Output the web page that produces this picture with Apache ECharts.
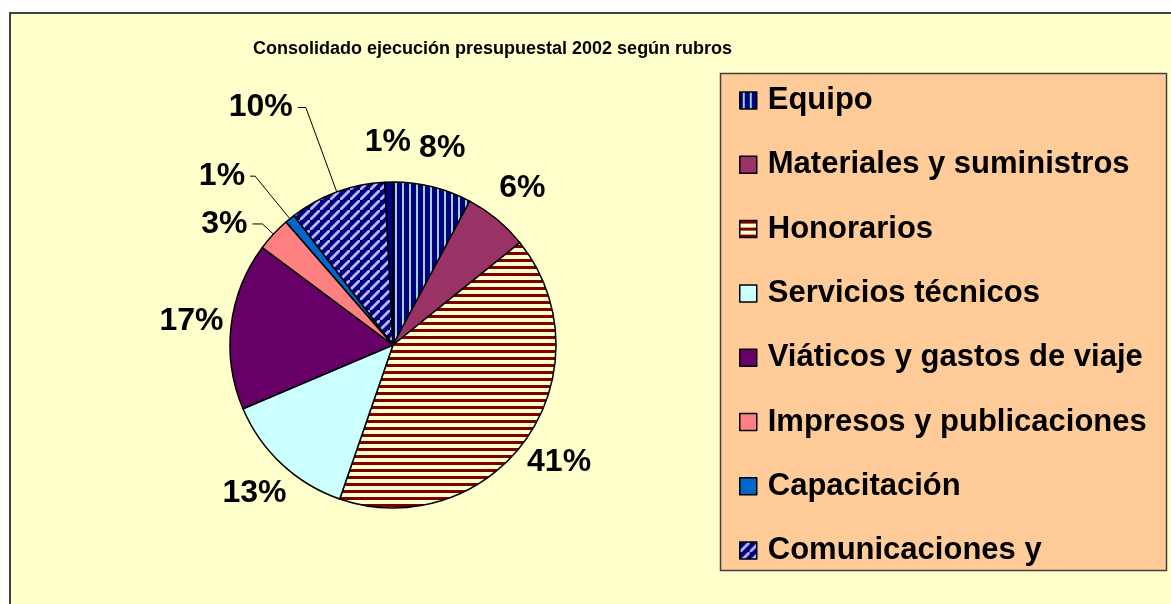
<!DOCTYPE html>
<html><head><meta charset="utf-8">
<script src="https://cdn.jsdelivr.net/npm/echarts@6/dist/echarts.min.js"></script>
<style>html,body{margin:0;padding:0;background:#fff}#c{width:1171px;height:604px}</style>
</head><body><div id="c"></div>
<script>
const titleText = 'Consolidado ejecución presupuestal 2002 según rubros';
const categories = ['Equipo','Materiales y suministros','Honorarios','Servicios técnicos','Viáticos y gastos de viaje','Impresos y publicaciones','Capacitación','Comunicaciones y','Otros'];
const values = [7.8, 6.4, 41.1, 13.3, 16.6, 3.4, 1.0, 9.6, 0.8];
const legendNames = categories.slice(0, 8);

// styles (kept apart from data)
function pattern(w, h, bg, fg, draw) {
  const c = document.createElement('canvas'); c.width = w; c.height = h;
  const g = c.getContext('2d'); g.fillStyle = bg; g.fillRect(0, 0, w, h);
  g.fillStyle = fg; g.strokeStyle = fg; draw(g); return { image: c, repeat: 'repeat' };
}
const pEquipo = pattern(7, 7, '#000080', '#9FD4CC', g => g.fillRect(3, 0, 2, 7));
const pHon = pattern(7, 7, '#FFFFCC', '#800000', g => g.fillRect(0, 0, 7, 3));
const pCom = pattern(10, 10, '#000080', '#B8B8F8', g => {
  g.lineWidth = 2.8;
  [[-10,20,20,-10],[-20,10,10,-20],[0,30,30,0]].forEach(s => { g.beginPath(); g.moveTo(s[0], s[1]); g.lineTo(s[2], s[3]); g.stroke(); });
});
const colors = [pEquipo, '#993366', pHon, '#CCFFFF', '#660066', '#FF8080', '#0066CC', pCom, '#000080'];
const leaderStyle = { 5: [15, 10], 6: [55, 5], 7: [90, 8] };
const FONT = '"Liberation Sans", Arial, sans-serif';
const labelText = { fontSize: 32, fontWeight: 'bold', color: '#000', fontFamily: FONT };
const fmt = p => Math.round(p.percent) + '%';

const chart = echarts.init(document.getElementById('c'), null, { renderer: 'canvas' });
chart.setOption({
  animation: false,
  backgroundColor: '#fff',
  graphic: [
    { type: 'rect', z: 0, shape: { x: 10, y: 13, width: 1300, height: 800 }, style: { fill: '#FFFFCC', stroke: '#404040', lineWidth: 2 } },
    { type: 'rect', z: 1, shape: { x: 720.5, y: 73.5, width: 446, height: 497 }, style: { fill: '#FFCC99', stroke: '#404040', lineWidth: 1.5 } }
  ],
  title: { text: titleText, left: 248, top: 35, textStyle: { fontSize: 18, fontWeight: 'bold', color: '#000', fontFamily: FONT } },
  legend: {
    data: legendNames, orient: 'vertical', left: 734, top: 80, itemWidth: 17, itemHeight: 17, itemGap: 33.3,
    icon: 'rect', selectedMode: false,
    itemStyle: { borderColor: '#000', borderWidth: 1.5 },
    textStyle: { fontSize: 31, fontWeight: 'bold', color: '#000', fontFamily: FONT, lineHeight: 31, padding: [0, 0, 0, 6] }
  },
  series: [
    {
      type: 'pie', center: [393, 345], radius: 163, startAngle: 90, clockwise: true,
      avoidLabelOverlap: false, silent: true,
      itemStyle: { borderColor: '#000', borderWidth: 1.5 },
      label: Object.assign({ show: false, position: 'outside', formatter: fmt, distanceToLabelLine: 5 }, labelText),
      labelLine: { show: false, lineStyle: { color: '#000', width: 1 } },
      data: categories.map((n, i) => {
        const d = { name: n, value: values[i], itemStyle: { color: colors[i] } };
        if (leaderStyle[i]) {
          d.label = { show: true };
          d.labelLine = { show: true, length: leaderStyle[i][0], length2: leaderStyle[i][1] };
        }
        return d;
      })
    },
    {
      type: 'pie', center: [393, 345], radius: [175, 225], startAngle: 90, clockwise: true,
      avoidLabelOverlap: false, silent: true, z: 3,
      itemStyle: { color: 'rgba(0,0,0,0)', borderWidth: 0 },
      label: Object.assign({ show: true, position: 'inside', formatter: fmt }, labelText),
      labelLine: { show: false },
      data: categories.map((n, i) => {
        const d = { name: n, value: values[i] };
        if (leaderStyle[i]) d.label = { show: false };
        return d;
      })
    }
  ]
});
</script></body></html>
